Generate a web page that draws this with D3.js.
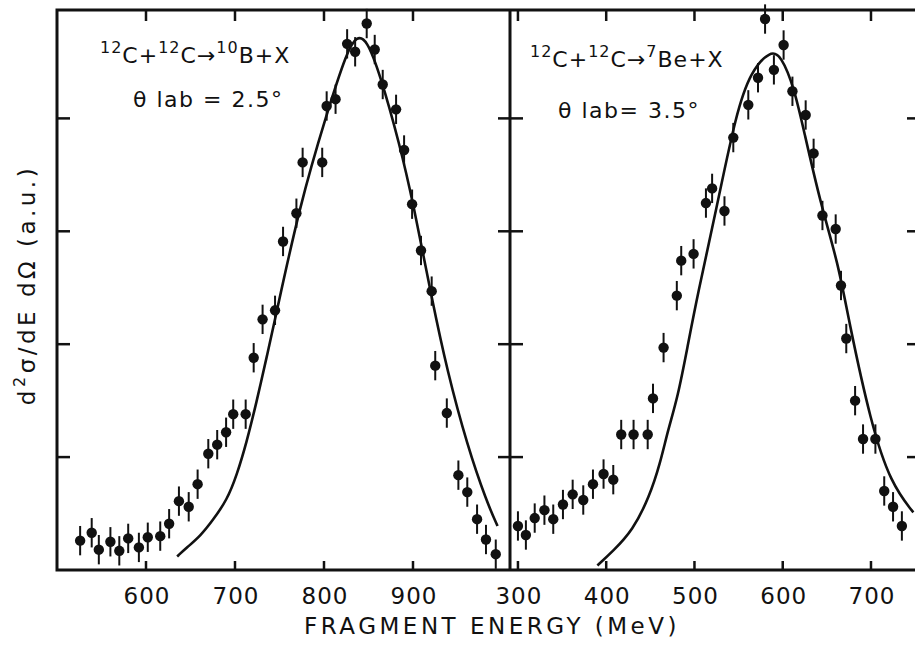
<!DOCTYPE html>
<html>
<head>
<meta charset="utf-8">
<script src="https://cdn.jsdelivr.net/npm/d3@7"></script>
<style>
  body { margin: 0; background: #fff; }
  text { font-family: "DejaVu Sans", sans-serif; fill: #111; }
</style>
</head>
<body>
<script>
const width = 915;
const height = 648;

// left panel : 12C + 12C -> 10B + X, theta lab = 2.5 deg
const boronEnergy = [526, 539, 547, 560, 570, 580, 592, 602, 616, 626, 637, 648, 658, 670, 680,
    690, 698, 712, 721, 731, 745, 754, 769, 776, 798, 803, 813, 826, 835, 848, 857, 866, 881, 890,
    899, 909, 921, 925, 938, 951, 961, 972, 982, 993];
const boronYield = [0.26, 0.33, 0.18, 0.25, 0.17, 0.28, 0.20, 0.29, 0.30, 0.41, 0.61, 0.56, 0.76,
    1.03, 1.11, 1.22, 1.38, 1.38, 1.88, 2.22, 2.30, 2.91, 3.16, 3.61, 3.61, 4.11, 4.17, 4.66, 4.59,
    4.84, 4.61, 4.30, 4.08, 3.72, 3.24, 2.83, 2.47, 1.81, 1.39, 0.84, 0.69, 0.45, 0.27, 0.14];
const boronFitEnergy = [635, 646, 661, 675, 691, 702, 713, 724, 736, 745, 773, 803, 826, 837, 848,
    863, 885, 900, 922, 938, 961, 983, 995];
const boronFitYield = [0.12, 0.20, 0.30, 0.44, 0.62, 0.84, 1.13, 1.48, 1.90, 2.22, 3.24, 4.04, 4.60,
    4.73, 4.70, 4.39, 3.77, 3.26, 2.37, 1.78, 1.10, 0.60, 0.39];

// right panel : 12C + 12C -> 7Be + X, theta lab = 3.5 deg
const berylEnergy = [300, 309, 319, 330, 340, 351, 362, 374, 385, 397, 408, 417, 431, 447, 453,
    465, 480, 485, 499, 513, 520, 534, 544, 561, 572, 580, 590, 601, 611, 626, 635, 645, 660, 666,
    672, 682, 691, 705, 715, 725, 735];
const berylYield = [0.39, 0.31, 0.46, 0.53, 0.45, 0.58, 0.67, 0.62, 0.76, 0.85, 0.80, 1.20, 1.20,
    1.20, 1.52, 1.97, 2.43, 2.74, 2.80, 3.25, 3.38, 3.18, 3.83, 4.12, 4.36, 4.88, 4.43, 4.65, 4.24,
    4.03, 3.69, 3.14, 3.02, 2.52, 2.05, 1.50, 1.16, 1.16, 0.70, 0.56, 0.39];
const berylFitEnergy = [390, 408, 430, 449, 461, 470, 481, 492, 503, 526, 547, 564, 586, 598, 613,
    624, 643, 663, 674, 700, 723, 748];
const berylFitYield = [0.04, 0.17, 0.35, 0.65, 0.94, 1.24, 1.53, 1.97, 2.42, 3.24, 4.04, 4.42, 4.60,
    4.56, 4.27, 3.89, 3.24, 2.71, 2.24, 1.29, 0.76, 0.51];

const errorBar = 0.13;
const leftTicks = [600, 700, 800, 900];
const rightTicks = [300, 400, 500, 600, 700];
const yTicks = [1, 2, 3, 4];

const x0 = 57, xMid = 510, xEnd = 916, yTop = 10, yBottom = 570;

const svg = d3.select("body")
    .append("svg")
    .attr("width", width)
    .attr("height", height)
    .style("background", "#fff");

const y = d3.scaleLinear().domain([0, 4.96]).range([yBottom, yTop]);
const xLeft = d3.scaleLinear().domain([500, 1009]).range([x0, xMid]);
const xRight = d3.scaleLinear().domain([291, 751]).range([xMid, xEnd]);

// frame
const frame = svg.append("g")
    .attr("stroke", "#111")
    .attr("stroke-width", 3)
    .attr("fill", "none");
frame.append("path").attr("d", `M${xEnd},${yTop} H${x0} V${yBottom} H${xEnd}`);
frame.append("line").attr("x1", xMid).attr("x2", xMid).attr("y1", yTop).attr("y2", yBottom);

// x ticks, inward on bottom and top
function xTicks(scale, ticks) {
    const g = svg.append("g");
    g.selectAll("line.b").data(ticks).enter().append("line")
        .attr("x1", d => scale(d)).attr("x2", d => scale(d))
        .attr("y1", yBottom).attr("y2", yBottom - 9)
        .attr("stroke", "#111").attr("stroke-width", 2.5);
    g.selectAll("line.t").data(ticks).enter().append("line")
        .attr("x1", d => scale(d)).attr("x2", d => scale(d))
        .attr("y1", yTop).attr("y2", yTop + 11)
        .attr("stroke", "#111").attr("stroke-width", 2.5);
    g.selectAll("text").data(ticks).enter().append("text")
        .attr("x", d => scale(d) + 1)
        .attr("y", 604)
        .attr("text-anchor", "middle")
        .attr("font-size", 23)
        .attr("letter-spacing", 1)
        .text(d => d);
}
xTicks(xLeft, leftTicks);
xTicks(xRight, rightTicks);

// y ticks: left axis, divider (both sides), right edge
const yt = svg.append("g").attr("stroke", "#111").attr("stroke-width", 2.5);
yt.selectAll("line.l").data(yTicks).enter().append("line")
    .attr("x1", x0).attr("x2", x0 + 13)
    .attr("y1", d => y(d)).attr("y2", d => y(d));
yt.selectAll("line.m").data(yTicks).enter().append("line")
    .attr("x1", xMid - 12).attr("x2", xMid + 13)
    .attr("y1", d => y(d)).attr("y2", d => y(d));
yt.selectAll("line.r").data(yTicks).enter().append("line")
    .attr("x1", xEnd - 9).attr("x2", xEnd)
    .attr("y1", d => y(d)).attr("y2", d => y(d));

// data + fit curve for one panel
function drawPanel(xs, energy, yieldVals, fitE, fitY) {
    const pts = energy.map((e, i) => ({ e: e, v: yieldVals[i] }));
    const fit = fitE.map((e, i) => ({ e: e, v: fitY[i] }));

    const line = d3.line()
        .x(d => xs(d.e))
        .y(d => y(d.v))
        .curve(d3.curveBasis);
    svg.append("path")
        .datum(fit)
        .attr("d", line)
        .attr("fill", "none")
        .attr("stroke", "#111")
        .attr("stroke-width", 2.6);

    const g = svg.append("g");
    g.selectAll("line").data(pts).enter().append("line")
        .attr("x1", d => xs(d.e)).attr("x2", d => xs(d.e))
        .attr("y1", d => y(d.v + errorBar)).attr("y2", d => y(d.v - errorBar))
        .attr("stroke", "#111").attr("stroke-width", 2);
    g.selectAll("circle").data(pts).enter().append("circle")
        .attr("cx", d => xs(d.e))
        .attr("cy", d => y(d.v))
        .attr("r", 5.2)
        .attr("fill", "#111");
}
drawPanel(xLeft, boronEnergy, boronYield, boronFitEnergy, boronFitYield);
drawPanel(xRight, berylEnergy, berylYield, berylFitEnergy, berylFitYield);

// reaction labels
function reaction(x, yPos, parts) {
    const t = svg.append("text").attr("x", x).attr("y", yPos)
        .attr("font-size", 22).attr("letter-spacing", 1);
    parts.forEach(p => {
        if (p.sup) {
            t.append("tspan").attr("font-size", 16).attr("dy", -10).text(p.sup);
            t.append("tspan").attr("dy", 10).text(p.s);
        } else {
            t.append("tspan").text(p.s);
        }
    });
}
reaction(100, 63, [{ sup: "12", s: "C+" }, { sup: "12", s: "C→" }, { sup: "10", s: "B+X" }]);
reaction(530, 67, [{ sup: "12", s: "C+" }, { sup: "12", s: "C→" }, { sup: "7", s: "Be+X" }]);

svg.append("text").attr("x", 133).attr("y", 107).attr("font-size", 22)
    .attr("letter-spacing", 1.5).text("θ lab = 2.5°");
svg.append("text").attr("x", 558).attr("y", 118).attr("font-size", 22)
    .attr("letter-spacing", 1.5).text("θ lab= 3.5°");

// axis titles
svg.append("text")
    .attr("x", 492).attr("y", 634)
    .attr("text-anchor", "middle")
    .attr("font-size", 23)
    .attr("letter-spacing", 3.5)
    .text("FRAGMENT ENERGY (MeV)");

const yl = svg.append("text")
    .attr("transform", "translate(35,285) rotate(-90)")
    .attr("text-anchor", "middle")
    .attr("font-size", 23)
    .attr("letter-spacing", 3.5);
yl.append("tspan").text("d");
yl.append("tspan").attr("font-size", 16).attr("dy", -10).text("2");
yl.append("tspan").attr("dy", 10).text("σ/dE dΩ (a.u.)");
</script>
</body>
</html>
